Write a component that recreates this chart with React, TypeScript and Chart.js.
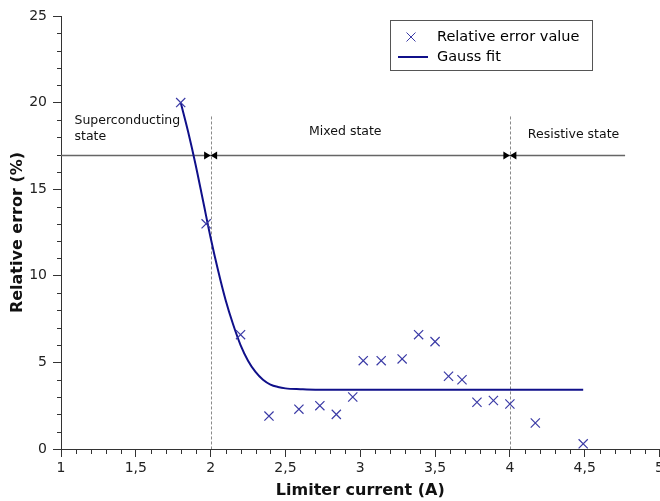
import React, { useEffect, useRef } from "react";
import { Chart, registerables } from "chart.js";

Chart.register(...registerables);

// Measured relative error values
const errCurrent = [1.8, 1.97, 2.2, 2.39, 2.59, 2.73, 2.84, 2.95, 3.02, 3.14, 3.28, 3.39, 3.5, 3.59, 3.68, 3.78, 3.89, 4.0, 4.17, 4.49];
const errValue = [20.0, 13.0, 6.6, 1.9, 2.3, 2.5, 2.0, 3.0, 5.1, 5.1, 5.2, 6.6, 6.2, 4.2, 4.0, 2.7, 2.8, 2.6, 1.5, 0.3];

// Gauss fit curve
const fitCurrent = [1.8, 1.85, 1.9, 1.95, 2.0, 2.05, 2.1, 2.15, 2.2, 2.25, 2.3, 2.35, 2.4, 2.45, 2.5, 2.6, 2.7, 4.49];
const fitValue = [20.0, 18.3, 16.4, 14.3, 12.2, 10.3, 8.6, 7.2, 6.0, 5.1, 4.45, 4.0, 3.72, 3.58, 3.5, 3.45, 3.42, 3.42];

// State boundaries and region labels
const boundaries = [2, 4];
const stateLineLevel = 17;
const stateLineEnd = 4.77;
const stateLabels = ["Superconducting\nstate", "Mixed state", "Resistive state"];

const legendLabels = ["Relative error value", "Gauss fit"];

const FONT = "'DejaVu Sans', Verdana, sans-serif";
const MARKER = "#3b3ba6";
const LINE = "#10108a";

const annotationPlugin = {
  id: "stateAnnotations",
  beforeDatasetsDraw(chart: any) {
    const { ctx, scales } = chart;
    const xs = scales.x;
    const ys = scales.y;
    ctx.save();
    // dashed boundaries
    ctx.strokeStyle = "#8a8a8a";
    ctx.lineWidth = 1;
    ctx.setLineDash([3, 2]);
    boundaries.forEach((b) => {
      const x = Math.round(xs.getPixelForValue(b)) + 0.5;
      ctx.beginPath();
      ctx.moveTo(x, ys.getPixelForValue(19.2));
      ctx.lineTo(x, ys.getPixelForValue(0));
      ctx.stroke();
    });
    ctx.setLineDash([]);
    // horizontal state line
    const yl = Math.round(ys.getPixelForValue(stateLineLevel)) + 0.5;
    ctx.strokeStyle = "#666";
    ctx.lineWidth = 1.3;
    ctx.beginPath();
    ctx.moveTo(xs.getPixelForValue(1), yl);
    ctx.lineTo(xs.getPixelForValue(stateLineEnd), yl);
    ctx.stroke();
    // arrowheads
    ctx.fillStyle = "#000";
    boundaries.forEach((b) => {
      const x = xs.getPixelForValue(b);
      ctx.beginPath();
      ctx.moveTo(x, yl);
      ctx.lineTo(x - 6.5, yl - 4);
      ctx.lineTo(x - 6.5, yl + 4);
      ctx.closePath();
      ctx.fill();
      ctx.beginPath();
      ctx.moveTo(x, yl);
      ctx.lineTo(x + 6.5, yl - 4);
      ctx.lineTo(x + 6.5, yl + 4);
      ctx.closePath();
      ctx.fill();
    });
    // labels
    ctx.fillStyle = "#111";
    ctx.font = `12.5px ${FONT}`;
    ctx.textBaseline = "middle";
    ctx.textAlign = "left";
    const sc = stateLabels[0].split("\n");
    ctx.fillText(sc[0], xs.getPixelForValue(1.09), ys.getPixelForValue(18.94));
    ctx.fillText(sc[1], xs.getPixelForValue(1.09), ys.getPixelForValue(18.0));
    ctx.textAlign = "center";
    ctx.fillText(stateLabels[1], xs.getPixelForValue(2.9), ys.getPixelForValue(18.3));
    ctx.textAlign = "left";
    ctx.fillText(stateLabels[2], xs.getPixelForValue(4.12), ys.getPixelForValue(18.16));
    ctx.restore();
  },
  afterDraw(chart: any) {
    const { ctx, scales } = chart;
    const xs = scales.x;
    const ys = scales.y;
    ctx.save();
    // minor ticks
    ctx.strokeStyle = "#333";
    ctx.lineWidth = 1;
    ctx.beginPath();
    for (let i = 10; i <= 50; i++) {
      if (i % 5 === 0) continue;
      const x = Math.round(xs.getPixelForValue(i / 10)) + 0.5;
      ctx.moveTo(x, ys.bottom);
      ctx.lineTo(x, ys.bottom + 5);
    }
    for (let i = 0; i <= 25; i++) {
      if (i % 5 === 0) continue;
      const y = Math.round(ys.getPixelForValue(i)) + 0.5;
      ctx.moveTo(xs.left - 4, y);
      ctx.lineTo(xs.left, y);
    }
    ctx.stroke();

    // legend
    const bx = 390.5, by = 20.5, bw = 202, bh = 50;
    ctx.fillStyle = "#fff";
    ctx.fillRect(bx, by, bw, bh);
    ctx.strokeStyle = "#555";
    ctx.lineWidth = 1;
    ctx.strokeRect(bx, by, bw, bh);
    // marker sample
    ctx.strokeStyle = MARKER;
    ctx.beginPath();
    ctx.moveTo(406.5, 32.5);
    ctx.lineTo(415.5, 41.5);
    ctx.moveTo(415.5, 32.5);
    ctx.lineTo(406.5, 41.5);
    ctx.stroke();
    // line sample
    ctx.strokeStyle = LINE;
    ctx.lineWidth = 2;
    ctx.beginPath();
    ctx.moveTo(398, 57);
    ctx.lineTo(428, 57);
    ctx.stroke();
    ctx.fillStyle = "#000";
    ctx.font = `14.5px ${FONT}`;
    ctx.textBaseline = "middle";
    ctx.textAlign = "left";
    ctx.fillText(legendLabels[0], 437, 37);
    ctx.fillText(legendLabels[1], 437, 57);
    ctx.restore();
  },
};

export default function App() {
  const ref = useRef<HTMLCanvasElement | null>(null);
  useEffect(() => {
    if (!ref.current) return;
    Chart.defaults.font.family = FONT;
    const chart = new Chart(ref.current, {
      type: "scatter",
      data: {
        datasets: [
          {
            label: legendLabels[0],
            data: errCurrent.map((x, i) => ({ x, y: errValue[i] })),
            pointStyle: "crossRot",
            pointRadius: 6.5,
            pointBorderWidth: 1.2,
            borderColor: MARKER,
            backgroundColor: MARKER,
            showLine: false,
            order: 1,
          },
          {
            label: legendLabels[1],
            data: fitCurrent.map((x, i) => ({ x, y: fitValue[i] })),
            showLine: true,
            pointRadius: 0,
            borderColor: LINE,
            borderWidth: 2,
            cubicInterpolationMode: "monotone",
            order: 2,
          } as any,
        ],
      },
      options: {
        responsive: false,
        animation: false,
        devicePixelRatio: 1,
        layout: { padding: { left: 0, top: 16, right: 20.5, bottom: 0 } },
        plugins: { legend: { display: false }, tooltip: { enabled: false } },
        scales: {
          x: {
            type: "linear",
            min: 1,
            max: 5,
            afterFit: (s: any) => {
              s.height = 52;
            },
            ticks: {
              stepSize: 0.5,
              padding: 3,
              color: "#222",
              font: { size: 14 },
              maxRotation: 0,
              callback: (v: any) => String(v).replace(".", ","),
            },
            grid: { drawOnChartArea: false, drawTicks: true, tickLength: 8, color: "#333" },
            border: { display: true, color: "#333", width: 1 },
            title: {
              display: true,
              text: "Limiter current (A)",
              color: "#111",
              font: { size: 16, weight: "bold" },
              padding: { top: 0, bottom: 1 },
            },
          },
          y: {
            type: "linear",
            min: 0,
            max: 25,
            afterFit: (s: any) => {
              s.width = 61;
            },
            ticks: {
              stepSize: 5,
              padding: 6,
              color: "#222",
              font: { size: 14 },
            },
            grid: { drawOnChartArea: false, drawTicks: true, tickLength: 8, color: "#333" },
            border: { display: true, color: "#333", width: 1 },
            title: {
              display: true,
              text: "Relative error (%)",
              color: "#111",
              font: { size: 16, weight: "bold" },
              padding: { top: 8, bottom: 0 },
            },
          },
        },
      },
      plugins: [annotationPlugin],
    });
    return () => chart.destroy();
  }, []);
  return (
    <div
      style={{
        position: "fixed",
        left: 0,
        top: 0,
        width: 660,
        height: 501,
        overflow: "hidden",
        background: "#fff",
      }}
    >
      <canvas ref={ref} width={680} height={501} style={{ display: "block" }} />
    </div>
  );
}
